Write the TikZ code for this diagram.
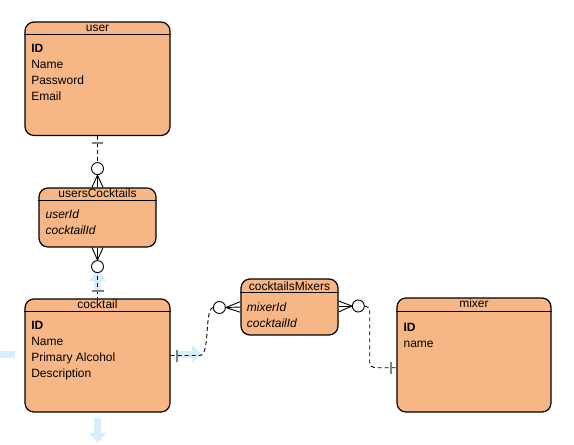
\documentclass[tikz,border=0pt]{standalone}
\usepackage{fontspec}
\setmainfont{Liberation Sans}
\usetikzlibrary{calc,arrows.meta}
\definecolor{erfill}{HTML}{F7B686}
\definecolor{hintblue}{HTML}{D9EEFB}
\tikzset{
  entity/.style={draw, fill=erfill, rounded corners=9, line width=1.2, inner sep=0},
  hdr/.style={anchor=base, inner sep=0, font=\fontsize{12}{14}\selectfont},
  attrs/.style={anchor=base west, inner sep=0, align=left, font=\fontsize{12}{16}\selectfont},
  rel/.style={line width=0.9, dash pattern=on 4 off 3},
  onebar/.style={draw=black!50, line width=1.8},
  zero/.style={circle, draw, fill=white, minimum size=12, inner sep=0, line width=0.9},
  crow/.style={line width=0.9},
  hint/.style={draw=hintblue, line width=7, -{Triangle[length=10pt,width=17pt]}}
}

\begin{document}
\begin{tikzpicture}[x=1pt, y=-1pt]
	%%%%% START %%%%%
	\useasboundingbox (0,0) rectangle (574,445);
	\clip (0,0) rectangle (574,445);

	% hover hints around cocktail
	\draw[hint] (15,354) -- (-12,354);
	\draw[hint] (177,354) -- (202,354);
	\draw[hint] (97.5,418) -- (97.5,443);
	\draw[hint] (97.5,291) -- (97.5,271);

	% entities
	\node[entity, minimum width=145, minimum height=113.5] (user) at (97.5,78.75) {};
	\node[entity, minimum width=117, minimum height=59] (uc) at (97.5,217.5) {};
	\node[entity, minimum width=145, minimum height=113] (cocktail) at (97.5,355.5) {};
	\node[entity, minimum width=97, minimum height=56] (cm) at (289.5,307) {};
	\node[entity, minimum width=154, minimum height=114] (mixer) at (474,355) {};

	% header lines
	\draw[line width=1.1] ($(user.north west)+(0,13)$) -- ($(user.north east)+(0,13)$);
	\draw[line width=1.1] ($(uc.north west)+(0,13)$) -- ($(uc.north east)+(0,13)$);
	\draw[line width=1.1] ($(cocktail.north west)+(0,13)$) -- ($(cocktail.north east)+(0,13)$);
	\draw[line width=1.1] ($(cm.north west)+(0,14.5)$) -- ($(cm.north east)+(0,14.5)$);
	\draw[line width=1.1] ($(mixer.north west)+(0,14.5)$) -- ($(mixer.north east)+(0,14.5)$);

	% titles
	\node[hdr] (userT) at ($(user.north)+(0,10.4)$) {user};
	\node[hdr] (ucT) at ($(uc.north)+(0,10.4)$) {usersCocktails};
	\node[hdr] (cocktailT) at ($(cocktail.north)+(0,10.4)$) {cocktail};
	\node[hdr] (cmT) at ($(cm.north)+(0,11.6)$) {cocktailsMixers};
	\node[hdr] (mixerT) at ($(mixer.north)+(0,10.4)$) {mixer};

	% fields (anchored on the last line)
	\node[attrs] (userF) at ($(user.north west)+(6.7,79.3)$) {\textbf{ID}\\Name\\Password\\Email};
	\node[attrs, font=\fontsize{12}{16}\selectfont\itshape] (ucF) at ($(uc.north west)+(7,47)$) {userId\\cocktailId};
	\node[attrs] (cocktailF) at ($(cocktail.north west)+(6.7,79)$) {\textbf{ID}\\Name\\Primary Alcohol\\Description};
	\node[attrs, font=\fontsize{12}{16}\selectfont\itshape] (cmF) at ($(cm.north west)+(6.3,48.7)$) {mixerId\\cocktailId};
	\node[attrs] (mixerF) at ($(mixer.north west)+(7,50.3)$) {\textbf{ID}\\name};

	% user -- usersCocktails
	\draw[rel] (user.south) -- (uc.north);
	\draw[onebar] ($(user.south)+(-5.5,6.5)$) -- ($(user.south)+(5.5,6.5)$);
	\node[zero] (o1) at ($(user.south)+(0,32.5)$) {};
	\draw[crow] ($(uc.north)+(-5.5,0)$) -- (o1.south) -- ($(uc.north)+(5.5,0)$);
	\draw[crow] (o1.south) -- (uc.north);

	% usersCocktails -- cocktail
	\draw[rel] (uc.south) -- (cocktail.north);
	\node[zero] (o2) at ($(uc.south)+(0,19)$) {};
	\draw[crow] ($(uc.south)+(-5.5,0)$) -- (o2.north) -- ($(uc.south)+(5.5,0)$);
	\draw[crow] (o2.north) -- (uc.south);
	\draw[onebar] ($(cocktail.north)+(-6,-7.3)$) -- ($(cocktail.north)+(6,-7.3)$);

	% cocktail -- cocktailsMixers
	\node[zero] (o3) at ($(cm.west)+(-21,0.5)$) {};
	\draw[rel] (cocktail.east) -- ++(29,0) .. controls ++(11,0) and ++(-9,3) .. (o3.west);
	\draw[onebar] ($(cocktail.east)+(6.7,-6)$) -- ($(cocktail.east)+(6.7,6)$);
	\draw[crow] ($(cm.west)+(0,-5.3)$) -- (o3.east) -- ($(cm.west)+(0,5.3)$);
	\draw[crow] (o3.east) -- (cm.west);

	% cocktailsMixers -- mixer
	\node[zero] (o4) at ($(cm.east)+(19.7,-1)$) {};
	\draw[crow] ($(cm.east)+(0,-6)$) -- (o4.west) -- ($(cm.east)+(0,5)$);
	\draw[crow] (o4.west) -- ($(cm.east)+(0,-1)$);
	\draw[rel, rounded corners=5] (o4.east) -- ++(5,0) |- ($(mixer.west)+(0,12.7)$);
	\draw[onebar] ($(mixer.west)+(-5.7,6.7)$) -- ($(mixer.west)+(-5.7,18.7)$);

	%%%%% END %%%%%
\end{tikzpicture}
\end{document}
